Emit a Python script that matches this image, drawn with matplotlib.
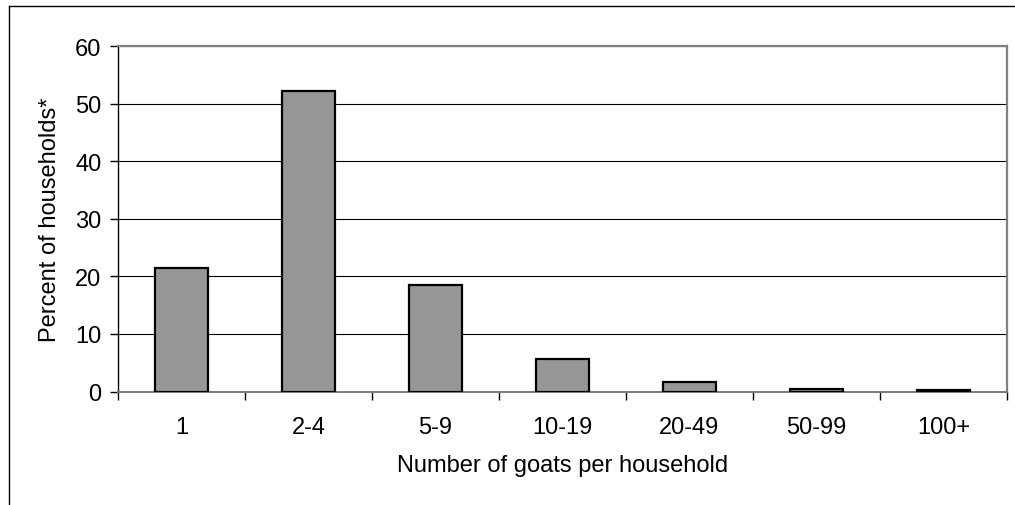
import matplotlib
matplotlib.use("Agg")
import matplotlib.pyplot as plt
from matplotlib.lines import Line2D
from matplotlib.ticker import FixedLocator, NullFormatter, FixedFormatter

plt.rcParams['font.family'] = ['Liberation Sans', 'DejaVu Sans']

categories = ["1", "2-4", "5-9", "10-19", "20-49", "50-99", "100+"]
percent_households = [21.4, 52.2, 18.5, 5.6, 1.7, 0.4, 0.2]
y_ticks = [0, 10, 20, 30, 40, 50, 60]

W, H = 1015, 506
fig = plt.figure(figsize=(W / 100, H / 100), dpi=100)

# outer chart frame (extends past right and bottom edges)
fig.add_artist(Line2D([9 / W, 9 / W], [0, 1 - 7 / H], transform=fig.transFigure,
                      color="black", lw=1.0))
fig.add_artist(Line2D([9 / W, 1.0], [1 - 7 / H, 1 - 7 / H], transform=fig.transFigure,
                      color="black", lw=1.0))

left, right = 118 / W, 1007 / W
bottom, top = 1 - 392.5 / H, 1 - 47.3 / H
ax = fig.add_axes([left, bottom, right - left, top - bottom])

x = list(range(len(categories)))
ax.bar(x, percent_households, width=0.41, color="#969696", edgecolor="black",
       linewidth=1.6, zorder=3)

ax.set_xlim(-0.5, len(categories) - 0.5)
ax.set_ylim(0, 60)

# horizontal gridlines
ax.set_yticks(y_ticks)
ax.yaxis.grid(True, color="black", linewidth=0.8, zorder=1)
ax.set_axisbelow(True)

# category boundaries as tick marks, category names centred
ax.xaxis.set_major_locator(FixedLocator([i - 0.5 for i in range(len(categories) + 1)]))
ax.xaxis.set_major_formatter(NullFormatter())
ax.xaxis.set_minor_locator(FixedLocator(x))
ax.xaxis.set_minor_formatter(FixedFormatter(categories))
ax.tick_params(axis="x", which="major", direction="out", length=6, width=1.0,
               color="black")
ax.tick_params(axis="x", which="minor", length=0, pad=18, labelsize=17)
ax.tick_params(axis="y", direction="out", length=6, width=1.0, pad=6, labelsize=17)

for side in ("top", "right"):
    ax.spines[side].set_color("#808080")
    ax.spines[side].set_linewidth(1.6)
ax.spines["left"].set_color("black")
ax.spines["left"].set_linewidth(1.0)
ax.spines["bottom"].set_color("#7a7a7a")
ax.spines["bottom"].set_linewidth(1.4)

ax.set_ylabel("Percent of households*", fontsize=17, labelpad=10)
ax.set_xlabel("Number of goats per household", fontsize=17, labelpad=11)

fig.savefig("out.png", dpi=100)
